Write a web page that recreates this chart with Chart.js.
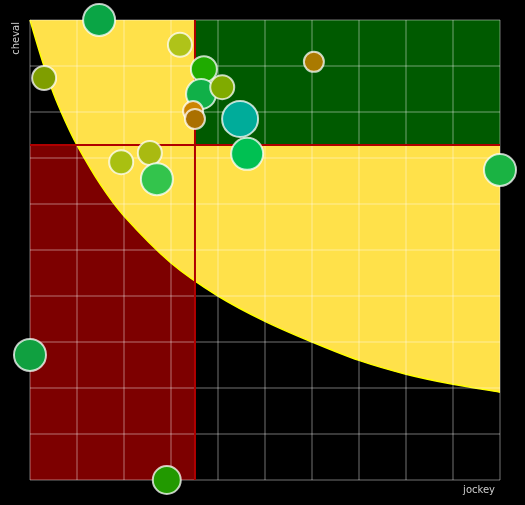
<!DOCTYPE html>
<html><head><meta charset="utf-8">
<script src="https://cdn.jsdelivr.net/npm/chart.js@4"></script>
<style>html,body{margin:0;padding:0;background:#000}#w{width:525px;height:505px}</style>
</head><body><div id="w"><canvas id="c"></canvas></div>
<script>
const bubbleX = [14.7, 31.9, 3.0, 37.0, 36.4, 40.9, 34.7, 35.1, 44.7, 46.2, 19.4, 25.5, 27.0, 60.4, 100, 0, 29.1];
const bubbleY = [100, 94.6, 87.4, 89.3, 83.9, 85.4, 80.2, 78.5, 78.5, 70.9, 69.1, 71.1, 65.4, 90.9, 67.4, 27.2, 0];
const bubbleR = [16, 12, 12, 13, 15, 12, 10, 10, 18, 16, 12, 12, 16, 10, 16, 16, 14];
const bubbleC = ['#0aa545','#afc319','#7f9e00','#1fab00','#10b048','#80ab00','#cc8400','#aa7000','#00ac9a','#00c052','#a9c011','#a9ba11','#33c44c','#aa7a00','#1ab343','#10a040','#229900'];
const curveX = [0, 2.5, 5, 7.5, 10, 15, 20, 30, 40, 50, 60, 70, 80, 90, 100];
const curveY = [100, 91.5, 84, 78, 72.8, 64.2, 57.4, 47.2, 40, 34.5, 30, 26, 23, 20.8, 19.1];
const thresholdX = 35.1, thresholdY = 72.8;

const regions = {
  id:'regions',
  beforeDraw(ch){const c=ch.ctx;c.save();c.fillStyle='#000';c.fillRect(0,0,ch.width,ch.height);c.restore();},
  beforeDatasetsDraw(ch){
    const c=ch.ctx,x=ch.scales.x,y=ch.scales.y,a=ch.chartArea;
    c.save();
    const tx=x.getPixelForValue(thresholdX), ty=y.getPixelForValue(thresholdY);
    c.fillStyle='#7d0000'; c.fillRect(a.left,ty,tx-a.left,a.bottom-ty);
    const p=curveX.map((v,i)=>[x.getPixelForValue(v),y.getPixelForValue(curveY[i])]);
    function curvePath(){
      c.moveTo(p[0][0],p[0][1]);
      for(let i=0;i<p.length-1;i++){
        const p0=p[Math.max(0,i-1)],p1=p[i],p2=p[i+1],p3=p[Math.min(p.length-1,i+2)];
        const d=Math.hypot(p2[0]-p1[0],p2[1]-p1[1]);
        const d1=Math.hypot(p2[0]-p0[0],p2[1]-p0[1])||1, d2=Math.hypot(p3[0]-p1[0],p3[1]-p1[1])||1;
        const k=d/3;
        c.bezierCurveTo(p1[0]+(p2[0]-p0[0])/d1*k,p1[1]+(p2[1]-p0[1])/d1*k,p2[0]-(p3[0]-p1[0])/d2*k,p2[1]-(p3[1]-p1[1])/d2*k,p2[0],p2[1]);
      }
    }
    c.beginPath();curvePath();c.lineTo(a.right,a.top);c.closePath();
    c.fillStyle='#ffe14a';c.fill();
    c.beginPath();curvePath();c.strokeStyle='#ffff00';c.lineWidth=1.5;c.stroke();
    c.fillStyle='#005a00'; c.fillRect(tx,a.top,a.right-tx,ty-a.top);
    c.strokeStyle='rgba(255,255,255,0.3)';c.lineWidth=1.5;
    x.ticks.forEach((t,i)=>{const px=x.getPixelForTick(i);c.beginPath();c.moveTo(px,a.top);c.lineTo(px,a.bottom);c.stroke();});
    y.ticks.forEach((t,i)=>{const py=y.getPixelForTick(i);c.beginPath();c.moveTo(a.left,py);c.lineTo(a.right,py);c.stroke();});
    c.strokeStyle='#b00000';c.lineWidth=2;
    c.beginPath();c.moveTo(tx,a.top);c.lineTo(tx,a.bottom);c.moveTo(a.left,ty);c.lineTo(a.right,ty);c.stroke();
    c.restore();
  },
  afterDraw(ch){
    const c=ch.ctx;c.save();c.fillStyle='#cccccc';c.font='10px "DejaVu Sans", sans-serif';
    c.textAlign='right';c.textBaseline='middle';c.fillText('jockey',495,490);
    c.translate(16,22);c.rotate(-Math.PI/2);c.textAlign='right';c.fillText('cheval',0,0);
    c.restore();
  }
};

new Chart(document.getElementById('c'),{
  type:'bubble',
  data:{datasets:[{
    data:bubbleX.map((v,i)=>({x:v,y:bubbleY[i],r:bubbleR[i]})),
    backgroundColor:bubbleC,
    borderColor:'rgba(255,255,255,0.75)',borderWidth:2,hoverRadius:0,clip:false
  }]},
  options:{
    responsive:true,maintainAspectRatio:false,animation:false,
    layout:{padding:{left:22,right:25,top:20,bottom:17}},
    plugins:{legend:{display:false},tooltip:{enabled:false}},
    scales:{
      x:{type:'linear',min:0,max:100,ticks:{display:false,stepSize:10},grid:{display:false},border:{display:false}},
      y:{type:'linear',min:0,max:100,ticks:{display:false,stepSize:10},grid:{display:false},border:{display:false}}
    }
  },
  plugins:[regions]
});
</script></body></html>
